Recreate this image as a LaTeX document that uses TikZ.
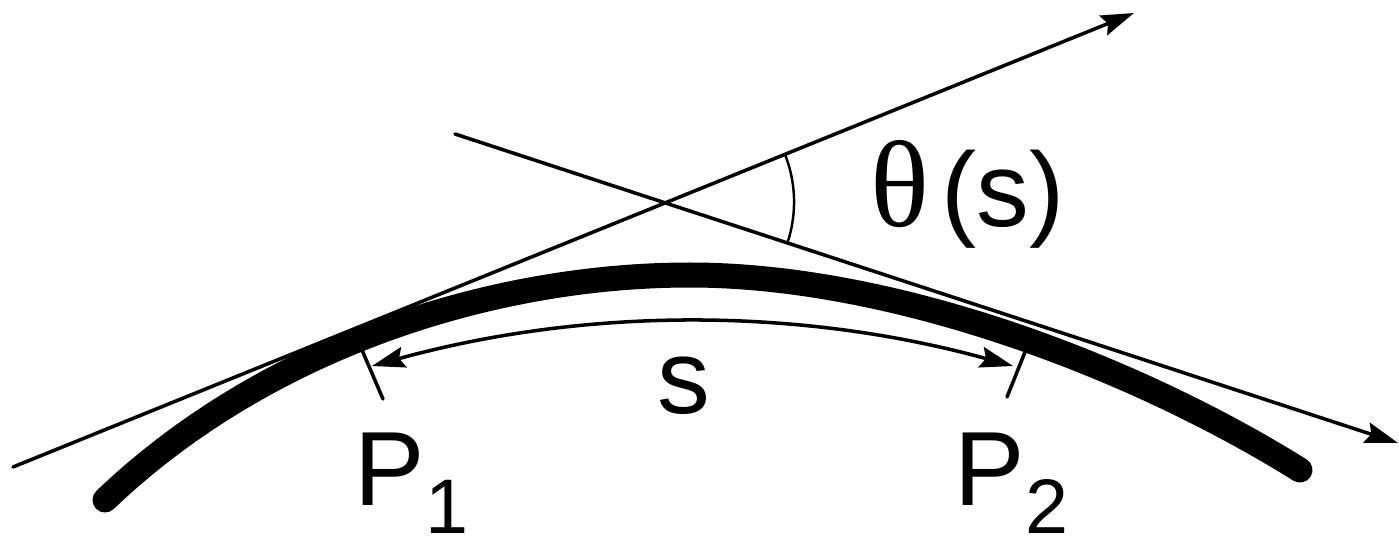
\documentclass[tikz,border=0pt]{standalone}
\usepackage{fontspec}
\setmainfont{Liberation Sans}
\newfontfamily\thetafont{Liberation Serif}
\usetikzlibrary{arrows.meta,angles}

\tikzset{
  thin line/.style={line width=1pt, line cap=round},
  tip/.style={-{Stealth[length=0.33cm, width=0.21cm, inset=0.05cm]}},
  big label/.style={font=\fontsize{30}{36}\selectfont, inner sep=0pt, anchor=base west},
}
\newcommand{\subnum}[1]{\raisebox{-0.28cm}{\fontsize{22}{26}\selectfont #1}}

\begin{document}
\begin{tikzpicture}[x=0.01cm, y=-0.01cm]
  \useasboundingbox (0,0) rectangle (1399,545);
  % end points of the two tangents, the ticks and the arc arrow
  \coordinate (T1a) at (13,467);
  \coordinate (T1b) at (1134,13);
  \coordinate (T2a) at (455,134);
  \coordinate (T2b) at (1398,443);
  \coordinate (X) at (665,202);
  \coordinate (K1a) at (362,350);
  \coordinate (K1b) at (383,399);
  \coordinate (K2a) at (1027,347);
  \coordinate (K2b) at (1007,397);
  \coordinate (S1) at (372,366);
  \coordinate (S2) at (1013,366);
  \coordinate (C1) at (105,500);
  \coordinate (Ctop) at (690,275);
  \coordinate (C2) at (1300,470);
  % thick curve
  \draw[line width=0.25cm, line cap=round] (C1) .. controls (264,348) and (490,275) .. (Ctop)
    .. controls (890,275) and (1130,364) .. (C2);
  % tangents
  \draw[thin line, tip] (T1a) -- (T1b);
  \draw[thin line, tip] (T2a) -- (T2b);
  \pic[draw, line width=0.7pt, angle radius=1.29cm] {angle=T2b--X--T1b};
  % ticks and arc length
  \draw[thin line] (K1a) -- (K1b);
  \draw[thin line] (K2a) -- (K2b);
  \draw[line width=1pt, {Stealth[length=0.33cm, width=0.21cm, inset=0.05cm]}-{Stealth[length=0.33cm, width=0.21cm, inset=0.05cm]}]
    (S1) .. controls (586,307) and (799,307) .. (S2);
  % labels
  \node[big label] (theta) at (870,226) {{\thetafont\fontsize{35}{40}\selectfont θ}\hspace{0.12cm}(s)};
  \node[big label] (s) at (657,413) {s};
  \node[big label] (p1) at (354,505) {P\subnum{1}};
  \node[big label] (p2) at (954,505) {P\subnum{2}};
\end{tikzpicture}
\end{document}
